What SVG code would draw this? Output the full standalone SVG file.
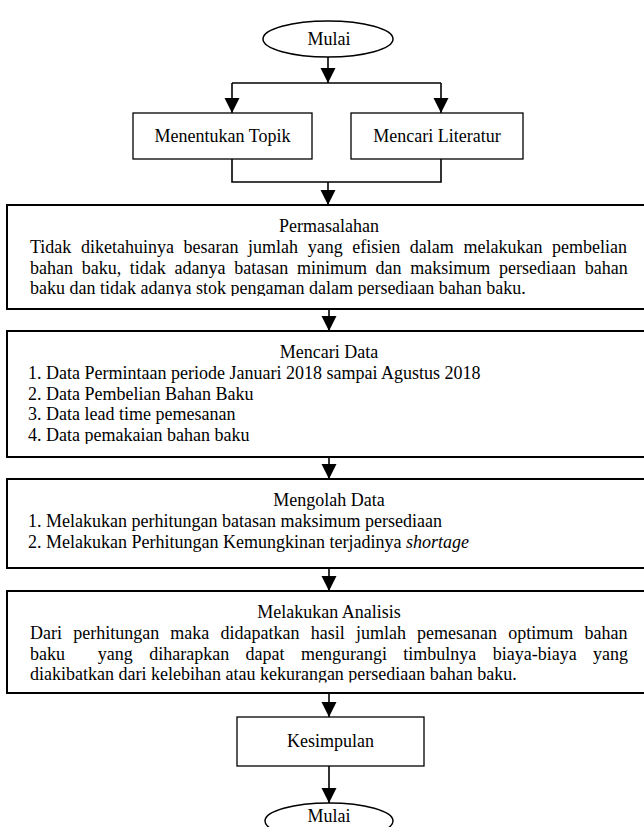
<svg xmlns="http://www.w3.org/2000/svg" width="644" height="827" viewBox="0 0 644 827">
<style>
text{font-family:"Liberation Serif","Times New Roman",serif;font-size:18px;fill:#000}
.c{text-anchor:middle}
.box{fill:#fff;stroke:#000;stroke-width:1.3}
.big{fill:#fff;stroke:#000;stroke-width:2}
.ln{fill:none;stroke:#000;stroke-width:1.6}
</style>
<defs>
<marker id="ah" markerUnits="userSpaceOnUse" markerWidth="16" markerHeight="16" refX="15" refY="7.5" orient="auto">
<path d="M0,0 L15,7.5 L0,15 Z" fill="#000"/>
</marker>
<clipPath id="cp1"><rect x="0" y="205" width="644" height="91"/></clipPath>
<clipPath id="cp2"><rect x="0" y="331" width="644" height="113"/></clipPath>
<clipPath id="cp4"><rect x="0" y="591" width="644" height="91.5"/></clipPath>
</defs>

<g id="connectors">
<line class="ln" x1="328" y1="57" x2="328" y2="83" marker-end="url(#ah)"/>
<line class="ln" x1="232" y1="83" x2="441" y2="83"/>
<line class="ln" x1="232" y1="83" x2="232" y2="113" marker-end="url(#ah)"/>
<line class="ln" x1="441" y1="83" x2="441" y2="113" marker-end="url(#ah)"/>
<polyline class="ln" points="232,159 232,182 441,182 441,159"/>
<line class="ln" x1="328" y1="182" x2="328" y2="205" marker-end="url(#ah)"/>
<line class="ln" x1="329" y1="309" x2="329" y2="331" marker-end="url(#ah)"/>
<line class="ln" x1="329" y1="457" x2="329" y2="479" marker-end="url(#ah)"/>
<line class="ln" x1="329" y1="568" x2="329" y2="591" marker-end="url(#ah)"/>
<line class="ln" x1="329" y1="693" x2="329" y2="717" marker-end="url(#ah)"/>
<line class="ln" x1="329" y1="766" x2="329" y2="803" marker-end="url(#ah)"/>
</g>

<g id="start">
<ellipse cx="328" cy="39" rx="65" ry="18" fill="#fff" stroke="#000" stroke-width="1.5"/>
<text class="c" x="329" y="45">Mulai</text>
</g>

<g id="topik">
<rect class="box" x="133" y="113" width="179" height="46"/>
<text class="c" x="222.5" y="142">Menentukan Topik</text>
</g>

<g id="literatur">
<rect class="box" x="351" y="113" width="172" height="46"/>
<text class="c" x="437" y="142">Mencari Literatur</text>
</g>

<g id="permasalahan">
<rect class="big" x="7" y="205" width="650" height="104"/>
<g clip-path="url(#cp1)">
<text class="c" x="329" y="232">Permasalahan</text>
<text x="30" y="253" style="word-spacing:5.1px">Tidak diketahuinya besaran jumlah yang efisien dalam melakukan pembelian</text>
<text x="30" y="273.5" style="word-spacing:4.2px">bahan baku, tidak adanya batasan minimum dan maksimum persediaan bahan</text>
<text x="30" y="294">baku dan tidak adanya stok pengaman dalam persediaan bahan baku.</text>
</g>
</g>

<g id="mencari-data">
<rect class="big" x="7" y="331" width="650" height="126"/>
<g clip-path="url(#cp2)">
<text class="c" x="329" y="358">Mencari Data</text>
<text x="28" y="379">1. Data Permintaan periode Januari 2018 sampai Agustus 2018</text>
<text x="28" y="399.5">2. Data Pembelian Bahan Baku</text>
<text x="28" y="420">3. Data lead time pemesanan</text>
<text x="28" y="441">4. Data pemakaian bahan baku</text>
</g>
</g>

<g id="mengolah-data">
<rect class="big" x="7" y="479" width="650" height="89"/>
<text class="c" x="329" y="506">Mengolah Data</text>
<text x="28" y="527">1. Melakukan perhitungan batasan maksimum persediaan</text>
<text x="28" y="547.5">2. Melakukan Perhitungan Kemungkinan terjadinya <tspan font-style="italic">shortage</tspan></text>
</g>

<g id="analisis">
<rect class="big" x="7" y="591" width="650" height="102"/>
<g clip-path="url(#cp4)">
<text class="c" x="329" y="618">Melakukan Analisis</text>
<text x="30" y="639" style="word-spacing:6.7px">Dari perhitungan maka didapatkan hasil jumlah pemesanan optimum bahan</text>
<text x="30" y="659.5" style="word-spacing:11.9px;white-space:pre">baku  yang diharapkan dapat mengurangi timbulnya biaya-biaya yang</text>
<text x="30" y="680">diakibatkan dari kelebihan atau kekurangan persediaan bahan baku.</text>
</g>
</g>

<g id="kesimpulan">
<rect class="box" x="237" y="717" width="187" height="49"/>
<text class="c" x="330.5" y="747">Kesimpulan</text>
</g>

<g id="end">
<ellipse cx="329" cy="821" rx="64" ry="18" fill="#fff" stroke="#000" stroke-width="1.5"/>
<text class="c" x="329" y="822">Mulai</text>
</g>
</svg>
